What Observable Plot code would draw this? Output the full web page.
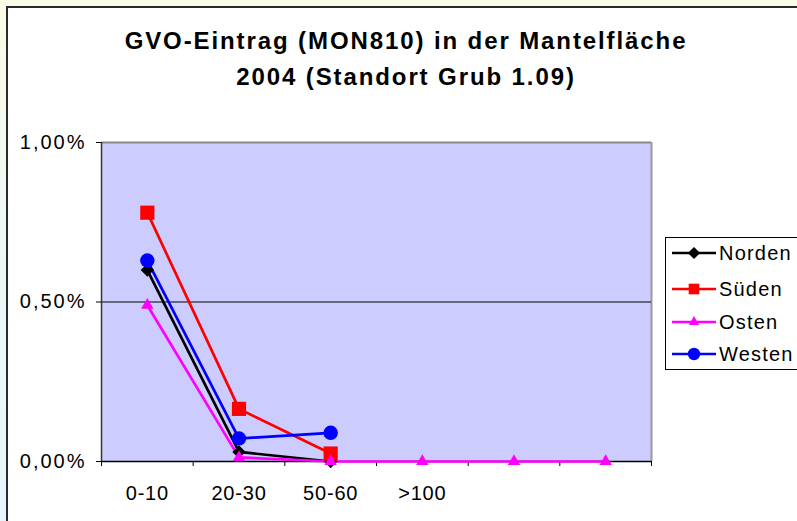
<!DOCTYPE html>
<html>
<head>
<meta charset="utf-8">
<script src="https://cdn.jsdelivr.net/npm/d3@7"></script>
<script src="https://cdn.jsdelivr.net/npm/@observablehq/plot@0.6"></script>
<style>
  html, body { margin: 0; padding: 0; }
  body { width: 797px; height: 521px; overflow: hidden; position: relative;
         background: linear-gradient(180deg, #fbfbe6 0%, #eef8f4 40%, #e8f4fa 100%);
         font-family: "Liberation Sans", Arial, sans-serif; }
  #frame { position: absolute; left: 6px; top: 6px; width: 820px; height: 540px;
           background: #fff; border-left: 2px solid #2a2a2a; border-top: 2px solid #2a2a2a; }
  #chart { position: absolute; left: 0; top: 0; }
  #title { position: absolute; left: 0; width: 812px; top: 23px; text-align: center;
           font-weight: bold; font-size: 24px; letter-spacing: 1.9px; line-height: 36px; color: #000; }
  #legend { position: absolute; left: 665px; top: 237px; width: 150px; height: 131px;
            border: 1px solid #000; background: #fff; }
  .row { position: absolute; left: 0; height: 30px; display: flex; align-items: center; }
  .row span { font-size: 20px; margin-left: 3px; color: #000; letter-spacing: 1.2px; }
  .ylab text { letter-spacing: 2px; }
  .xlab text { letter-spacing: 0.8px; }
</style>
</head>
<body>
<div id="frame"></div>
<div id="chart"></div>
<div id="title">GVO-Eintrag (MON810) in der Mantelfläche<br>2004 (Standort Grub 1.09)</div>
<div id="legend"></div>
<script>
// ---- data (values in percent) ----
const categories = ["0-10", "20-30", "50-60", ">100", "", ""];
const yTicks = [0, 0.5, 1];
const seriesNames = ["Norden", "Süden", "Osten", "Westen"];
const norden = [0.60, 0.03, 0.00];
const sueden = [0.78, 0.165, 0.025];
const osten  = [0.49, 0.013, 0.00, 0.00, 0.00, 0.00];
const westen = [0.63, 0.072, 0.09];

const seriesValues = [norden, sueden, osten, westen];
const colors = ["#000000", "#ff0000", "#ff00ff", "#0000ff"];
const symbols = ["diamond2", "square", "triangle", "circle"];
const radii = [6, 8, 4.6, 7.2];
const legendRadii = [5.5, 6, 3.8, 6.2];

const rows = [];
seriesValues.forEach((vals, s) => vals.forEach((v, i) =>
  rows.push({series: seriesNames[s], x: i + 0.5, y: v})));

const fmt = d => d.toFixed(2).replace(".", ",") + "%";

const marks = [
  Plot.frame({fill: "#ccccff", stroke: null}),
  Plot.ruleY([1], {stroke: "#888", strokeWidth: 2}),
  Plot.ruleX([categories.length], {stroke: "#999", strokeWidth: 2}),
  Plot.ruleY([0.5], {stroke: "#000", strokeWidth: 1}),
  Plot.ruleX([0], {stroke: "#333", strokeWidth: 1.5}),
  Plot.ruleY([0], {stroke: "#000", strokeWidth: 1.5}),
  Plot.axisY({ticks: yTicks, tickFormat: fmt, tickSize: 5, tickPadding: 10, className: "ylab",
              fontSize: 20, label: null, stroke: "#000", strokeWidth: 1}),
  Plot.axisX({ticks: d3.range(categories.length + 1), tickFormat: () => "",
              tickSize: 5, label: null, strokeWidth: 1}),
  Plot.axisX({ticks: categories.map((c, i) => i + 0.5), tickFormat: d => categories[Math.round(d - 0.5)],
              tickSize: 0, tickPadding: 24, fontSize: 20, label: null, className: "xlab"})
];
seriesNames.forEach((name, s) => {
  const data = rows.filter(r => r.series === name);
  marks.push(Plot.line(data, {x: "x", y: "y", stroke: colors[s], strokeWidth: 2.7}));
});
seriesNames.forEach((name, s) => {
  const data = rows.filter(r => r.series === name);
  marks.push(Plot.dot(data, {x: "x", y: "y", symbol: () => symbols[s], fill: colors[s],
                             stroke: "none", r: radii[s]}));
});

const chart = Plot.plot({
  width: 797, height: 521,
  marginLeft: 101, marginRight: 146, marginTop: 142, marginBottom: 60,
  style: {background: "transparent", fontFamily: "Liberation Sans, Arial, sans-serif", color: "#000", overflow: "visible"},
  x: {type: "linear", domain: [0, categories.length]},
  y: {domain: [0, 1]},
  symbol: {type: "identity"},
  marks
});
document.getElementById("chart").appendChild(chart);

// ---- legend ----
const legend = d3.select("#legend");
const legendTops = [0, 36, 69, 101];
const symMap = {diamond2: d3.symbolDiamond2, square: d3.symbolSquare, triangle: d3.symbolTriangle, circle: d3.symbolCircle};
seriesNames.forEach((name, s) => {
  const row = legend.append("div").attr("class", "row").style("top", legendTops[s] + "px");
  const svg = row.append("svg").attr("width", 50).attr("height", 30);
  svg.append("line").attr("x1", 6).attr("x2", 50).attr("y1", 15).attr("y2", 15)
     .attr("stroke", colors[s]).attr("stroke-width", 2.5);
  svg.append("path").attr("transform", "translate(28,15)")
     .attr("d", d3.symbol(symMap[symbols[s]], Math.PI * legendRadii[s] ** 2)())
     .attr("fill", colors[s]);
  row.append("span").text(name);
});
</script>
</body>
</html>
